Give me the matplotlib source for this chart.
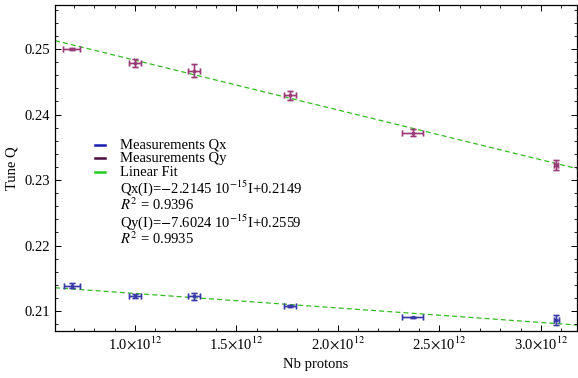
import numpy as np
import matplotlib
matplotlib.use("Agg")
import matplotlib.pyplot as plt
from matplotlib.ticker import MultipleLocator, FuncFormatter

plt.rcParams['font.family'] = ['Liberation Serif', 'DejaVu Serif']
plt.rcParams['mathtext.fontset'] = 'stix'

# data
nb = [0.69e12, 1.0e12, 1.29e12, 1.765e12, 2.368e12, 3.076e12]
nb_err_x = [0.041e12, 0.028e12, 0.03e12, 0.028e12, 0.05e12, 0.012e12]
nb_err_y = [0.042e12, 0.03e12, 0.03e12, 0.03e12, 0.05e12, 0.01e12]

qx = [0.21386, 0.21229, 0.21222, 0.21076, 0.20904, 0.20863]
qx_err = [0.0004, 0.0003, 0.0005, 0.0002, 0.0001, 0.0008]
qy = [0.2500, 0.2479, 0.2467, 0.24293, 0.23722, 0.23229]
qy_err = [0.0002, 0.0006, 0.001, 0.0007, 0.0005, 0.0008]

fit_x = (-2.2145e-15, 0.2149)
fit_y = (-7.6024e-15, 0.2559)

legend_labels = ['Measurements Qx', 'Measurements Qy', 'Linear Fit']
fit_labels = [r'Qx(I)=$-$2.2145 10$^{-15}$I+0.2149', r'$R^2$ = 0.9396',
              r'Qy(I)=$-$7.6024 10$^{-15}$I+0.2559', r'$R^2$ = 0.9935']

blue = '#3a3aa8'
purple = '#9a3a78'
green = '#33bb22'

fig = plt.figure(figsize=(5.78, 3.78), dpi=100)
ax = fig.add_axes([0.0952, 0.1243, 0.9028, 0.8625])
xmin, xmax = 0.607e12, 3.177e12
ax.set_xlim(xmin, xmax)
ax.set_ylim(0.20695, 0.25672)

xs = np.array([xmin, xmax])
ax.plot(xs, fit_x[0] * xs + fit_x[1], color=green, ls=(0, (4, 2.5)), lw=0.9, zorder=1)
ax.plot(xs, fit_y[0] * xs + fit_y[1], color=green, ls=(0, (4, 2.5)), lw=0.9, zorder=1)

for y, ye, xe, c in [(qx, qx_err, nb_err_x, blue), (qy, qy_err, nb_err_y, purple)]:
    ax.errorbar(nb, y, yerr=ye, xerr=xe, fmt='none', color=c, alpha=0.35,
                elinewidth=2.0, capsize=2.5, capthick=2.0, zorder=2)
    ax.errorbar(nb, y, yerr=ye, xerr=xe, fmt='s', ms=2, color=c,
                elinewidth=0.8, capsize=2, capthick=0.8, zorder=3)

# legend, placed in pixel rows measured from the top of the figure
def fy(py):
    return (331 - py) / 326

lx0, lx1, tx = 0.077, 0.096, 0.1245
for py, c, label in zip([145, 158, 172], ['#1a1ab0', '#4a0a40', '#22cc22'], legend_labels):
    ax.plot([lx0, lx1], [fy(py), fy(py)], transform=ax.transAxes, color=c, lw=1.8)
    ax.text(tx, fy(py), label, transform=ax.transAxes, va='center', fontsize=10.5)
for py, label in zip([188, 205, 222, 239], fit_labels):
    ax.text(tx, fy(py), label, transform=ax.transAxes, va='center', fontsize=10.5)

ax.xaxis.set_major_locator(MultipleLocator(0.5e12))
ax.xaxis.set_minor_locator(MultipleLocator(0.1e12))
ax.yaxis.set_major_locator(MultipleLocator(0.01))
ax.yaxis.set_minor_locator(MultipleLocator(0.002))
ax.xaxis.set_major_formatter(FuncFormatter(lambda v, p: r'%.1f$\times$10$^{12}$' % (v / 1e12)))
ax.yaxis.set_major_formatter(FuncFormatter(lambda v, p: '%.2f' % v))
ax.tick_params(which='both', direction='in', top=True, right=True, labelsize=10.5)
ax.tick_params(which='major', length=4.5, width=0.7)
ax.tick_params(which='minor', length=2.5, width=0.6)
for s in ax.spines.values():
    s.set_linewidth(0.9)

ax.set_xlabel('Nb protons', fontsize=10.5, labelpad=4)
ax.set_ylabel('Tune Q', fontsize=10.5, labelpad=4)

fig.savefig('out.png', dpi=100)
